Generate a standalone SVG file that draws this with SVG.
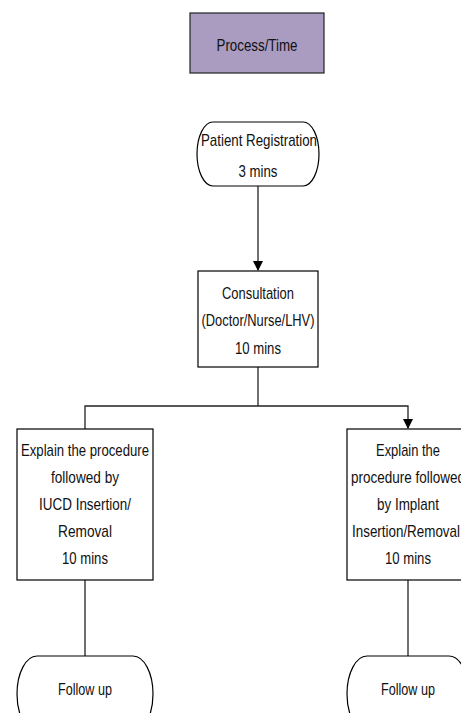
<svg xmlns="http://www.w3.org/2000/svg" width="461" height="713" viewBox="0 0 461 713">
<defs>
<marker id="arr" markerWidth="10" markerHeight="12" refX="9" refY="5" orient="auto" markerUnits="userSpaceOnUse">
<path d="M0,0 L10,5 L0,10 Z" fill="#000"/>
</marker>
<style>
.box{fill:#fff;stroke:#000;stroke-width:1.2}
.hdr{fill:#a99cc0;stroke:#222;stroke-width:1.2}
.t{font-family:"Liberation Sans Narrow","Liberation Sans",Arial,sans-serif;font-size:17px;fill:#111;text-anchor:middle}
.c{fill:none;stroke:#222;stroke-width:1.3}
</style>
</defs>
<rect width="461" height="713" fill="#fff"/>
<g id="header">
<rect class="hdr" x="190" y="13" width="134" height="60"/>
<text class="t" x="257" y="51" textLength="81" lengthAdjust="spacingAndGlyphs">Process/Time</text>
</g>
<g id="connectors">
<path class="c" d="M258,186 V270" marker-end="url(#arr)"/>
<path class="c" d="M258,367 V406"/>
<path class="c" d="M85,429 V406 H408 V428" marker-end="url(#arr)"/>
<path class="c" d="M85,580 V656"/>
<path class="c" d="M408,580 V656"/>
</g>
<g id="registration">
<rect class="box" x="197" y="122" width="122" height="64" rx="16" ry="32"/>
<text class="t" x="259" y="146" textLength="116" lengthAdjust="spacingAndGlyphs">Patient Registration</text>
<text class="t" x="258" y="177" textLength="39" lengthAdjust="spacingAndGlyphs">3 mins</text>
</g>
<g id="consultation">
<rect class="box" x="198" y="271" width="120" height="96"/>
<text class="t" x="258" y="299" textLength="72" lengthAdjust="spacingAndGlyphs">Consultation</text>
<text class="t" x="258" y="326" textLength="113" lengthAdjust="spacingAndGlyphs">(Doctor/Nurse/LHV)</text>
<text class="t" x="258" y="354" textLength="46" lengthAdjust="spacingAndGlyphs">10 mins</text>
</g>
<g id="iucd">
<rect class="box" x="17" y="429" width="136" height="151"/>
<text class="t" x="85" y="456" textLength="128" lengthAdjust="spacingAndGlyphs">Explain the procedure</text>
<text class="t" x="85" y="483" textLength="68" lengthAdjust="spacingAndGlyphs">followed by</text>
<text class="t" x="85" y="510" textLength="92" lengthAdjust="spacingAndGlyphs">IUCD Insertion/</text>
<text class="t" x="85" y="537" textLength="54" lengthAdjust="spacingAndGlyphs">Removal</text>
<text class="t" x="85" y="564" textLength="46" lengthAdjust="spacingAndGlyphs">10 mins</text>
</g>
<g id="implant">
<rect class="box" x="347" y="429" width="122" height="151"/>
<text class="t" x="408" y="456" textLength="64" lengthAdjust="spacingAndGlyphs">Explain the</text>
<text class="t" x="408" y="483" textLength="114" lengthAdjust="spacingAndGlyphs">procedure followed</text>
<text class="t" x="408" y="510" textLength="62" lengthAdjust="spacingAndGlyphs">by Implant</text>
<text class="t" x="406" y="537" textLength="108" lengthAdjust="spacingAndGlyphs">Insertion/Removal</text>
<text class="t" x="408" y="564" textLength="46" lengthAdjust="spacingAndGlyphs">10 mins</text>
</g>
<g id="followup-left">
<rect class="box" x="17" y="656" width="136" height="76" rx="20" ry="38"/>
<text class="t" x="85" y="695" textLength="54" lengthAdjust="spacingAndGlyphs">Follow up</text>
</g>
<g id="followup-right">
<rect class="box" x="347" y="656" width="122" height="76" rx="20" ry="38"/>
<text class="t" x="408" y="695" textLength="54" lengthAdjust="spacingAndGlyphs">Follow up</text>
</g>
</svg>
